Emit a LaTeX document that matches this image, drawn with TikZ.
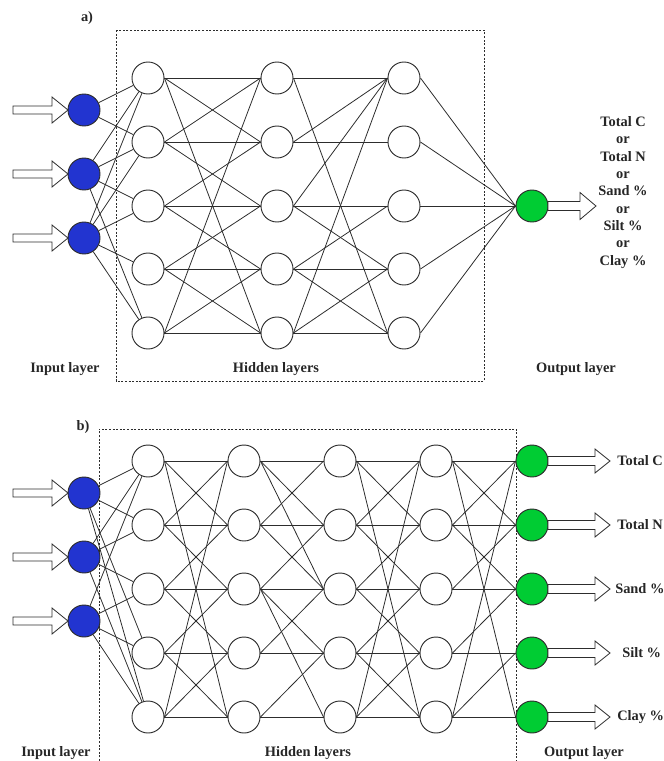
\documentclass[tikz,border=0pt]{standalone}
\usepackage{fontspec}
\setmainfont{Liberation Serif}
\usetikzlibrary{backgrounds}
\definecolor{inblue}{RGB}{34,52,208}
\definecolor{outgreen}{RGB}{0,204,51}
\definecolor{ink}{RGB}{45,45,45}
\tikzset{
  neuron/.style={circle, draw=ink, line width=0.7pt, fill=white, minimum size=24pt, inner sep=0pt},
  inneuron/.style={neuron, fill=inblue},
  outneuron/.style={neuron, fill=outgreen},
  link/.style={draw=ink, line width=0.6pt},
  frame/.style={draw=ink, line width=0.5pt, dash pattern=on 1.5pt off 1.2pt},
  lbl/.style={font=\fontsize{10.8}{13}\selectfont\bfseries, inner sep=0pt, text=black!85},
  arrowbody/.style={draw=ink, line width=0.6pt, fill=white, line join=miter},
  pics/blockarrow/.style n args={4}{code={
    \draw[arrowbody] (0,-#3) -- (#1,-#3) -- (#1,-#4) -- (#2,0) -- (#1,#4) -- (#1,#3) -- (0,#3) -- cycle;
  }}
}
\begin{document}
\begin{tikzpicture}[x=0.75pt,y=-0.75pt]
\useasboundingbox (0,0) rectangle (664,761);

% ---------------- a) single output network ----------------
\node[lbl] (alab) at (87,18) {a)};
\draw[frame] (116,30) rectangle (484,381);

\foreach \k/\yy in {1/110,2/174,3/238}{
  \node[inneuron] (a-in-\k) at (84,\yy) {};
  \pic at (13,\yy) {blockarrow={39}{55}{4}{13}};
}
\foreach \k/\yy in {1/78,2/142,3/206,4/269,5/333}{
  \node[neuron] (a-h1-\k) at (148,\yy) {};
  \node[neuron] (a-h2-\k) at (277,\yy) {};
  \node[neuron] (a-h3-\k) at (404,\yy) {};
}
\node[outneuron] (a-out) at (532,206) {};
\pic at (548,206) {blockarrow={32}{48}{4.5}{13.5}};

\begin{scope}[on background layer]
  \foreach \i/\j in {1/1,1/2,2/1,2/2,2/3,2/5,3/1,3/2,3/3,3/4,3/5}
    \draw[link] (a-in-\i) -- (a-h1-\j);
  \foreach \i/\j in {1/1,1/2,2/1,2/2,2/3,3/2,3/3,3/4,4/3,4/4,4/5,5/4,5/5,1/5,5/1}
    \draw[link] (a-h1-\i.east) -- (a-h2-\j.west);
  \foreach \i/\j in {1/1,1/5,2/1,2/2,3/1,3/3,3/4,4/3,4/4,4/5,5/1,5/4,5/5}
    \draw[link] (a-h2-\i.east) -- (a-h3-\j.west);
  \foreach \i in {1,...,5}
    \draw[link] (a-h3-\i.east) -- (a-out.west);
\end{scope}

\node[lbl, align=center] (atargets) at (623,192.5) {Total C\\or\\Total N\\or\\Sand \%\\or\\Silt \%\\or\\Clay \%};
\node[lbl] (ainl) at (65,369) {Input layer};
\node[lbl] (ahidl) at (276,369) {Hidden layers};
\node[lbl] (aoutl) at (576,369) {Output layer};

% ---------------- b) multi output network ----------------
\node[lbl] (blab) at (83,427) {b)};
\draw[frame] (99,761) -- (99,429) -- (516,429) -- (516,761);

\foreach \k/\yy in {1/493,2/557,3/621}{
  \node[inneuron] (b-in-\k) at (84,\yy) {};
  \pic at (13,\yy) {blockarrow={39}{55}{4}{13}};
}
\foreach \k/\yy in {1/461,2/525,3/589,4/653,5/717}{
  \node[neuron] (b-h1-\k) at (148,\yy) {};
  \node[neuron] (b-h2-\k) at (244,\yy) {};
  \node[neuron] (b-h3-\k) at (340,\yy) {};
  \node[neuron] (b-h4-\k) at (436,\yy) {};
  \node[outneuron] (b-out-\k) at (532,\yy) {};
  \pic at (548,\yy) {blockarrow={47}{62}{4.5}{12}};
}

\begin{scope}[on background layer]
  \foreach \i/\j in {1/1,1/2,1/4,1/5,2/1,2/2,2/3,2/5,3/1,3/3,3/4,3/5}
    \draw[link] (b-in-\i) -- (b-h1-\j);
  \foreach \i/\j in {1/1,1/2,2/1,2/2,2/3,3/2,3/3,3/4,4/3,4/4,4/5,5/4,5/5,1/5,5/1}
    \draw[link] (b-h1-\i.east) -- (b-h2-\j.west);
  \foreach \i/\j in {1/1,1/2,1/3,2/1,2/2,2/3,3/2,3/3,3/4,3/5,4/3,4/4,5/4,5/5}
    \draw[link] (b-h2-\i.east) -- (b-h3-\j.west);
  \foreach \i/\j in {1/1,1/2,2/1,2/2,2/3,3/2,3/3,3/4,4/3,4/4,4/5,5/4,5/5,1/5,5/1}
    \draw[link] (b-h3-\i.east) -- (b-h4-\j.west);
  \foreach \i/\j in {1/1,1/2,1/5,2/1,2/2,2/3,3/2,3/3,4/3,4/4,5/1,5/4,5/5}
    \draw[link] (b-h4-\i.east) -- (b-out-\j.west);
\end{scope}

\node[lbl, anchor=west] (btc) at (617,461) {Total C};
\node[lbl, anchor=west] (btn) at (617,525) {Total N};
\node[lbl, anchor=west] (bsand) at (615,589) {Sand \%};
\node[lbl, anchor=west] (bsilt) at (622,653) {Silt \%};
\node[lbl, anchor=west] (bclay) at (617,717) {Clay \%};
\node[lbl] (binl) at (56,753) {Input layer};
\node[lbl] (bhidl) at (308,753) {Hidden layers};
\node[lbl] (boutl) at (584,753) {Output layer};
\end{tikzpicture}
\end{document}
